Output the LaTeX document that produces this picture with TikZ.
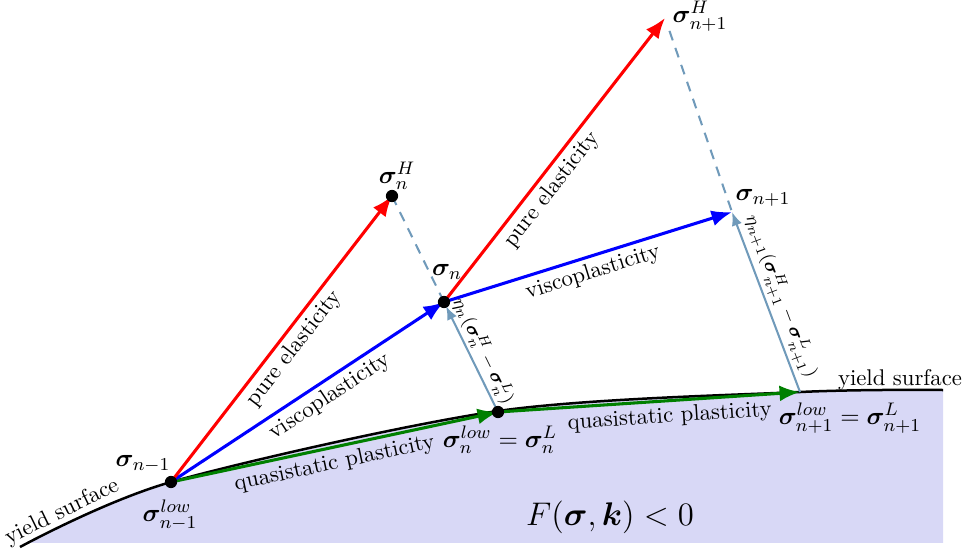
\documentclass[tikz,border=0pt,11pt]{standalone}
\usepackage{amsmath,bm}
\usetikzlibrary{arrows.meta}
\definecolor{fillc}{RGB}{216,216,246}
\definecolor{steel}{RGB}{112,154,186}
\definecolor{dgreen}{RGB}{0,128,0}
\begin{document}
\begin{tikzpicture}[x=0.44pt,y=-0.44pt,
  vec/.style={line width=1.35pt,-{Latex[length=9pt,width=7pt]}},
  corr/.style={steel,line width=0.9pt,-{Latex[length=6pt,width=4.6pt]}},
  dashline/.style={steel,line width=0.9pt,dash pattern=on 4.4pt off 3.5pt},
  ysurf/.style={line width=1.1pt},
  dot/.style={circle,fill=black,minimum size=5.4pt,inner sep=0pt},
  lbl/.style={inner sep=2pt,font=\small},
  corrlbl/.style={inner sep=1.5pt,font=\scriptsize},
  pt/.style={font=\normalsize}]
\useasboundingbox (0,0) rectangle (967,549);
% coordinates
\coordinate (snm1) at (171,482);
\coordinate (snL) at (498,412);
\coordinate (snpL) at (800,392);
\coordinate (sn) at (444,302);
\coordinate (snH) at (392,196);
\coordinate (snp) at (732,212);
\coordinate (snpH) at (665,18);
% admissible region
\begin{scope}
\clip (0,0) rectangle (943,542);
\fill[fillc] plot[smooth] coordinates {(20,547) (171,482) (498,411) (800,392) (943,390)} -- (943,549) -- (20,549) -- cycle;
\end{scope}
\draw[ysurf] plot[smooth] coordinates {(20,547) (171,482) (498,411) (800,392) (943,390)};
% dashed
\draw[dashline] (snH) -- (sn);
\draw[dashline,shorten <=6pt] (snpH) -- (snp);
% correction arrows
\draw[corr,shorten >=2pt] (snL) -- (sn);
\path (sn) -- (snL) node[midway,sloped,above,corrlbl] {$\eta_n(\bm{\sigma}_n^H-\bm{\sigma}_n^L)$};
\draw[corr] (snpL) -- (snp);
\path (snp) -- (snpL) node[midway,sloped,above,corrlbl] {$\eta_{n+1}(\bm{\sigma}_{n+1}^H-\bm{\sigma}_{n+1}^L)$};
% main arrows
\draw[vec,dgreen] (snm1) -- (snL) node[pos=0.49,sloped,below,lbl,black] {quasistatic plasticity};
\draw[vec,dgreen] (snL) -- (snpL) node[pos=0.565,sloped,below,lbl,black] {quasistatic plasticity};
\draw[vec,blue] (snm1) -- (sn) node[pos=0.55,sloped,below,lbl,black] {viscoplasticity};
\draw[vec,blue] (sn) -- (snp) node[pos=0.5,sloped,below,lbl,black] {viscoplasticity};
\draw[vec,red] (snm1) -- (snH) node[pos=0.5,sloped,below,lbl,black] {pure elasticity};
\draw[vec,red] (sn) -- (snpH) node[pos=0.43,sloped,below,lbl,black] {pure elasticity};
% dots
\node[dot] (d1) at (snm1) {};
\node[dot] (d2) at (snL) {};
\node[dot] (d3) at (sn) {};
\node[dot] (d4) at (snH) {};
% labels
\node[pt] (l1) at (143,464) {$\bm{\sigma}_{n-1}$};
\node[pt] (l2) at (170,515) {$\bm{\sigma}_{n-1}^{low}$};
\node[pt] (l3) at (500,440) {$\bm{\sigma}_n^{low}=\bm{\sigma}_n^L$};
\node[pt] (l4) at (850,418) {$\bm{\sigma}_{n+1}^{low}=\bm{\sigma}_{n+1}^L$};
\node[pt] (l5) at (397,176) {$\bm{\sigma}_n^H$};
\node[pt] (l6) at (447,272) {$\bm{\sigma}_n$};
\node[pt] (l7) at (763,198) {$\bm{\sigma}_{n+1}$};
\node[pt] (l8) at (700,16) {$\bm{\sigma}_{n+1}^H$};
\node[lbl] (ys1) at (900,380) {yield surface};
\node[lbl,rotate=26] (ys2) at (62,512) {yield surface};
\node (F) at (610,517) {\Large$F(\bm{\sigma},\bm{k})<0$};
\end{tikzpicture}
\end{document}
